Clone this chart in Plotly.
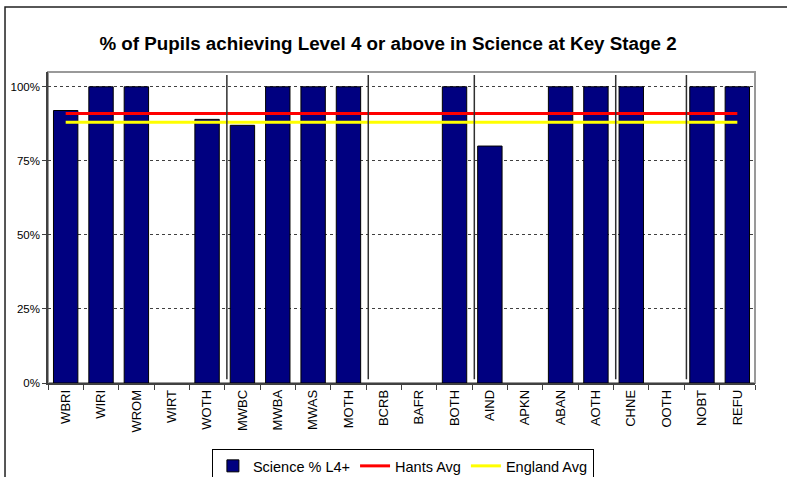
import plotly.graph_objects as go

# ── Datos ────────────────────────────────────────────────────────────────────

CATEGORIES = [
    "WBRI", "WIRI", "WROM", "WIRT", "WOTH",
    "MWBC", "MWBA", "MWAS", "MOTH",
    "BCRB", "BAFR", "BOTH",
    "AIND", "APKN", "ABAN", "AOTH",
    "CHNE", "OOTH",
    "NOBT", "REFU",
]
SCIENCE_L4 = [
    0.92, 1.00, 1.00, None, 0.89,
    0.87, 1.00, 1.00, 1.00,
    None, None, 1.00,
    0.80, None, 1.00, 1.00,
    1.00, None,
    1.00, 1.00,
]
HANTS_AVG = 0.91
ENGLAND_AVG = 0.88
# índice de la última categoría de cada grupo (separadores verticales)
GROUP_ENDS = [4, 8, 11, 15, 17]
Y_TICKS = [0, 0.25, 0.5, 0.75, 1.0]

NAVY = "#000080"
RED = "#FF0000"
YELLOW = "#FFFF00"
FONT = "Liberation Sans, Arial, sans-serif"

fig = go.Figure()

fig.add_trace(go.Bar(
    x=CATEGORIES,
    y=SCIENCE_L4,
    name="Science % L4+",
    width=0.69,
    marker=dict(color=NAVY, line=dict(color="black", width=1)),
))
fig.add_trace(go.Scatter(
    x=CATEGORIES,
    y=[HANTS_AVG] * len(CATEGORIES),
    name="Hants Avg",
    mode="lines",
    line=dict(color=RED, width=3),
))
fig.add_trace(go.Scatter(
    x=CATEGORIES,
    y=[ENGLAND_AVG] * len(CATEGORIES),
    name="England Avg",
    mode="lines",
    line=dict(color=YELLOW, width=3),
))

shapes = []
# separadores de grupos
for idx in GROUP_ENDS:
    shapes.append(dict(
        type="line", xref="x", yref="y",
        x0=idx + 0.56, x1=idx + 0.56, y0=0.013, y1=1.04,
        line=dict(color="#303030", width=1.5),
    ))
# borde del área de trazado
shapes.append(dict(
    type="rect", xref="paper", yref="paper",
    x0=0, x1=1, y0=0, y1=1,
    line=dict(color="#999999", width=2), layer="below",
))
# borde exterior del gráfico (recortado abajo y a la derecha, como el original)
shapes.append(dict(
    type="rect", xref="paper", yref="paper",
    x0=-0.0608, x1=1.06, y0=-0.35, y1=1.209,
    line=dict(color="#202020", width=1.5),
))

fig.update_layout(
    width=787,
    height=500,
    paper_bgcolor="white",
    plot_bgcolor="white",
    margin=dict(l=48, r=32, t=72, b=117),
    title=dict(
        text="<b>% of Pupils achieving Level 4 or above in Science at Key Stage 2</b>",
        x=0.493, xanchor="center", y=0.914, yanchor="middle",
        font=dict(size=18.8, color="black", family=FONT),
    ),
    font=dict(family=FONT, color="black"),
    xaxis=dict(
        type="category",
        automargin=False,
        tickson="boundaries",
        ticks="outside", ticklen=5, tickcolor="#404040",
        tickangle=-90,
        tickfont=dict(size=13, family=FONT),
        showline=True, linecolor="#404040", linewidth=1.5,
        showgrid=False,
        range=[-0.5, len(CATEGORIES) - 0.5],
    ),
    yaxis=dict(
        automargin=False,
        range=[0, 1.05],
        tickvals=Y_TICKS,
        tickformat=".0%",
        ticks="outside", ticklen=4, tickcolor="#404040",
        tickfont=dict(size=11.5, family=FONT),
        showline=True, linecolor="#404040", linewidth=1.5,
        showgrid=True, gridcolor="#404040", gridwidth=1, griddash="3px,3px",
        zeroline=False,
    ),
    legend=dict(
        orientation="h",
        x=0.502, xanchor="center",
        y=-0.212, yanchor="top",
        bordercolor="black", borderwidth=1,
        font=dict(size=14.5, family=FONT),
        traceorder="normal",
    ),
    showlegend=True,
    shapes=shapes,
    bargap=0.31,
)

fig.write_html(
    "out.html",
    config={"displayModeBar": False},
    post_script="document.body.style.margin='0';document.body.style.overflow='hidden';",
)
